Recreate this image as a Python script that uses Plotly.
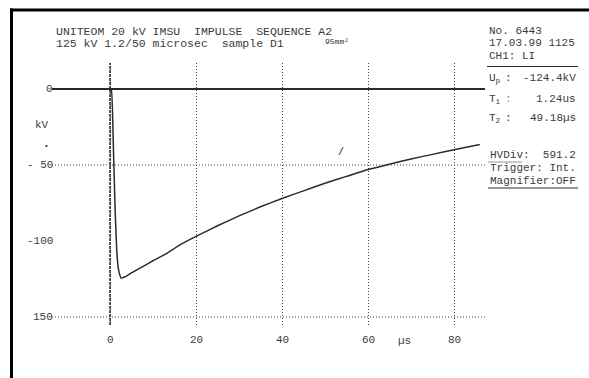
import plotly.graph_objects as go

# ---------------- data ----------------
T_US = [-13.5, 0.0, 0.3, 0.8, 1.2, 1.6, 2.0, 2.6, 3.5, 5.0, 7.5, 10.0, 13.0, 16.0,
        20.0, 25.0, 30.0, 35.0, 40.0, 45.0, 50.0, 55.0, 60.0, 65.0, 70.0, 75.0,
        80.0, 86.0]
U_KV = [0.0, 0.0, 0.0, -40.0, -80.0, -108.0, -119.0, -124.4, -123.5, -121.0,
        -117.0, -113.0, -108.5, -103.0, -97.0, -90.0, -83.5, -77.5, -72.0, -67.0,
        -62.0, -57.5, -53.0, -49.5, -46.0, -43.0, -40.0, -36.5]

X_TICKS = [0, 20, 40, 60, 80]
X_TICKTEXT = ["0", "20", "40", "60", "80"]
X_UNIT = "µs"
X_UNIT_POS = 68.6
Y_TICKS = [0, -50, -100, -150]
Y_TICKTEXT = ["0", "- 50", "-100", "150"]
Y_GRID = [-50, -150]
Y_UNIT = "kV"

TITLE_1 = "UNITEOM 20 kV IMSU  IMPULSE  SEQUENCE A2"
TITLE_2 = "125 kV 1.2/50 microsec  sample D1"
HANDNOTE = "95mm²"
INFO_TOP = ["No. 6443", "17.03.99 1125", "CH1: LI"]
INFO_LABELS = ["U<sub>p</sub>", "T<sub>1</sub>", "T<sub>2</sub>"]
INFO_VALUES = ["-124.4kV", "1.24us", "49.18µs"]
INFO_BOTTOM = ["HVDiv:  591.2", "Trigger: Int.", "Magnifier:OFF"]

# ---------------- layout geometry (pixels) ----------------
FW, FH = 589, 378
L, R, T, B = 52, 485, 63, 325
W, H = R - L, B - T
X0PX, PX_PER_US = 110, 4.3
Y0PX, PX_PER_KV = 89, 1.52
XR = [(L - X0PX) / PX_PER_US, (R - X0PX) / PX_PER_US]
YR = [-(B - Y0PX) / PX_PER_KV, (Y0PX - T) / PX_PER_KV]


def px(x):
    return (x - L) / W


def py(y):
    return (B - y) / H


INK = "#2a2a2a"
TXT = "#3c3c3c"
FONT = "Liberation Mono"
FS = 11

fig = go.Figure()
fig.add_trace(go.Scatter(x=T_US, y=U_KV, mode="lines", line_shape="spline",
                         line=dict(color=INK, width=1.5, smoothing=0.4),
                         hoverinfo="skip", showlegend=False))

shapes = []
# borders of the printout
shapes.append(dict(type="line", xref="paper", yref="paper", x0=px(11.5), x1=px(11.5),
                   y0=py(8.5), y1=py(FH + 2), line=dict(color="black", width=3)))
shapes.append(dict(type="line", xref="paper", yref="paper", x0=px(10), x1=px(FW + 2),
                   y0=py(10), y1=py(10), line=dict(color="black", width=3)))
# horizontal dotted grid
for g in Y_GRID:
    shapes.append(dict(type="line", xref="paper", yref="y", x0=0, x1=1, y0=g, y1=g,
                       line=dict(color="#444", width=1, dash="1px,2px")))
# dashed time-zero line
shapes.append(dict(type="line", xref="x", yref="paper", x0=X_TICKS[0], x1=X_TICKS[0],
                   y0=0, y1=1, line=dict(color=INK, width=1.5, dash="3px,1px")))
# separator and underlines in info panel
shapes.append(dict(type="line", xref="paper", yref="paper", x0=px(487), x1=px(578),
                   y0=py(66.5), y1=py(66.5), line=dict(color=INK, width=1)))
shapes.append(dict(type="line", xref="paper", yref="paper", x0=px(488), x1=px(578),
                   y0=py(188), y1=py(188), line=dict(color=INK, width=1)))
shapes.append(dict(type="line", xref="paper", yref="paper", x0=px(488), x1=px(522),
                   y0=py(162), y1=py(162), line=dict(color="#777", width=0.8)))

ann = []


def text(x, y, s, xanchor="left", size=FS, color=TXT, xref="paper", yref="paper"):
    ann.append(dict(x=x, y=y, xref=xref, yref=yref, text=s, showarrow=False,
                    xanchor=xanchor, yanchor="middle",
                    font=dict(family=FONT, size=size, color=color)))


# x tick labels
for v, s in zip(X_TICKS, X_TICKTEXT):
    text(v, py(340), s, xanchor="center", xref="x")
text(X_UNIT_POS, py(341), X_UNIT, xanchor="center", xref="x")
# y tick labels
for v, s in zip(Y_TICKS, Y_TICKTEXT):
    text(px(55), v, s, xanchor="right", yref="y")
text(px(51), py(125), Y_UNIT, xanchor="right")
text(px(50.5), py(145), "•", xanchor="right", size=8)

# titles
text(px(54), py(31), TITLE_1, size=11.5)
text(px(54), py(43.5), TITLE_2, size=11.5)
text(px(323), py(42), HANDNOTE, size=8, color="#333")

# info panel
for i, s in enumerate(INFO_TOP):
    text(px(487), py(31 + 12.3 * i), s)
for i, (lab, val) in enumerate(zip(INFO_LABELS, INFO_VALUES)):
    yy = [78, 99, 118][i]
    text(px(487), py(yy), lab)
    text(px(503), py(yy), ":", color="#888" if i == 1 else TXT)
    text(px(578), py(yy), val, xanchor="right")
for i, s in enumerate(INFO_BOTTOM):
    text(px(488), py(155 + 13 * i), s)

# small pen mark on the trace
text(px(341), -42, "/", xanchor="center", size=10, color="#111", yref="y")

fig.update_layout(
    width=FW, height=FH,
    margin=dict(l=L, r=FW - R, t=T, b=FH - B, pad=0),
    paper_bgcolor="white", plot_bgcolor="white",
    showlegend=False,
    xaxis=dict(range=XR, tickvals=X_TICKS, showticklabels=False, ticks="",
               showgrid=True, gridcolor="#444", gridwidth=1, griddash="1px,2px",
               zeroline=False, showline=False, fixedrange=True),
    yaxis=dict(range=YR, tickvals=Y_TICKS, showticklabels=False, ticks="",
               showgrid=False, zeroline=True, zerolinecolor=INK, zerolinewidth=1.5,
               showline=False, fixedrange=True),
    shapes=shapes, annotations=ann,
)

fig.write_html("out.html", config={"displayModeBar": False})
